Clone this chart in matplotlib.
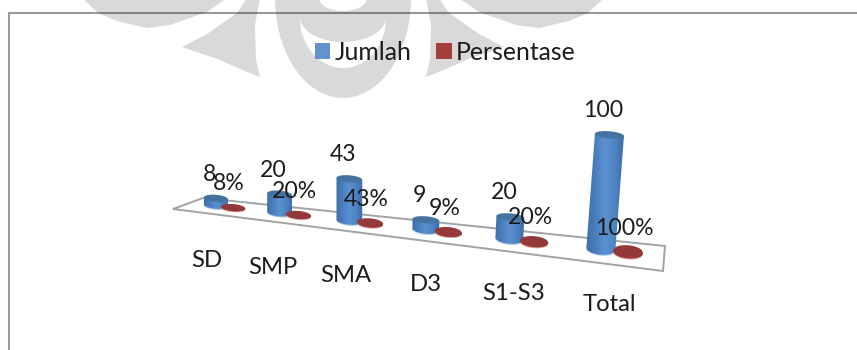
import numpy as np
import matplotlib
matplotlib.use("Agg")
import matplotlib.pyplot as plt
from matplotlib.patches import Polygon, Patch
from matplotlib.colors import LinearSegmentedColormap

plt.rcParams['font.family'] = ['Lato', 'DejaVu Sans']

# Education level data
categories = ["SD", "SMP", "SMA", "D3", "S1-S3", "Total"]
jumlah = [8, 20, 43, 9, 20, 100]
persentase = [0.08, 0.20, 0.43, 0.09, 0.20, 1.00]
persentase_labels = ["8%", "20%", "43%", "9%", "20%", "100%"]
series_names = ["Jumlah", "Persentase"]

WIDTH, HEIGHT = 857, 350
FONT_VALUE = 16.6
FONT_CATEGORY = 17.2
FONT_LEGEND = 17.8
INK = "#1c1c1c"
WATERMARK = "#d9d9d9"

fig = plt.figure(figsize=(WIDTH / 100, HEIGHT / 100), dpi=100)
ax = fig.add_axes([0, 0, 1, 1])
ax.set_xlim(0, WIDTH)
ax.set_ylim(HEIGHT, 0)
ax.axis("off")


def mirrored(points, axis=343):
    return [(2 * axis - x, y) for x, y in points]


# Pale logo printed behind the chart
blob = [(82, -2), (98, 13), (117, 21), (147, 28), (170, 25), (207, 12), (227, -2)]
wedge = [(182, 47), (207, 34), (237, 13), (247, -2), (260, -2), (255, 25),
         (256, 60), (260, 77), (247, 72), (220, 60)]
for shape in (blob, wedge, mirrored(blob), mirrored(wedge)):
    ax.add_patch(Polygon(shape, closed=True, fc=WATERMARK, ec="none", zorder=0))

bowl = np.linspace(np.pi, 0, 40)
outer = [(343 + 68 * np.cos(t), -2 + 100 * np.sin(t)) for t in bowl]
ax.add_patch(Polygon(outer, closed=True, fc=WATERMARK, ec="none", zorder=0))
gap = [(343 + 43 * np.cos(t), 18 + 50 * np.sin(t)) for t in bowl]
ax.add_patch(Polygon(gap, closed=True, fc="white", ec="none", zorder=0))
inner = [(343 + 43 * np.cos(t), 17 + 25 * np.sin(t)) for t in bowl]
ax.add_patch(Polygon(inner, closed=True, fc=WATERMARK, ec="none", zorder=0))
notch = [(343 + 24 * np.cos(t), -2 + 13 * np.sin(t)) for t in bowl]
ax.add_patch(Polygon(notch, closed=True, fc="white", ec="none", zorder=0))

# Chart area border: only the top and left edges fall inside the canvas
ax.plot([9.5, 9.5, WIDTH], [HEIGHT, 12.5, 12.5], color="black", alpha=0.4,
        lw=1.5, solid_joinstyle="miter", zorder=1)

# Perspective floor
floor = [(173, 209), (663, 271), (665, 246), (203, 198)]
ax.add_patch(Polygon(floor, closed=True, fc="none", ec="#a3a3a3", lw=1.4, zorder=2))

# Category slots widen by a constant ratio towards the viewer
SLOT_START, SLOT_STEP, SLOT_RATIO = 224.5, 64.5, 1.095


def project(u, v):
    x = SLOT_START + SLOT_STEP * (SLOT_RATIO ** u - 1) / (SLOT_RATIO - 1)
    front = 209 + (x - 173) * (271 - 209) / (663 - 173)
    back = 198 + (x - 203) * (246 - 198) / (665 - 203)
    return x, front + (back - front) * v


blue_map = LinearSegmentedColormap.from_list(
    "blue_body", ["#3d6ea8", "#4a7dbb", "#5b90d2", "#4f84c4", "#3a6ba3"])
red_map = LinearSegmentedColormap.from_list(
    "red_body", ["#8e3331", "#a53f3c", "#8e3331"])


def ellipse(cx, cy, rx, ry, tilt=0.08):
    t = np.linspace(0, 2 * np.pi, 80)
    dx = rx * np.cos(t)
    return np.column_stack([cx + dx, cy + ry * np.sin(t) + tilt * dx])


def cylinder(base_x, base_y, value, cmap, cap, rim, zorder, cap_ry=None):
    # Size and lean of a cylinder grow towards the near end of the floor
    depth = (base_x - 216) / 385
    rx = (24 + 5 * depth) / 2
    ry = 3.4 + 2.4 * depth
    rise = value * (0.875 + 0.265 * depth)
    lean = rise * 0.075 * max(depth - 0.35, 0) / 0.65
    top_x, top_y = base_x + lean, base_y - rise

    base = ellipse(base_x, base_y, rx, ry)
    ax.add_patch(Polygon(base + [0, 1.0], closed=True, fc=rim, ec="none", zorder=zorder))

    t = np.linspace(0, np.pi, 40)
    lower = np.column_stack([base_x + rx * np.cos(t), base_y + ry * np.sin(t) + 0.08 * rx * np.cos(t)])
    upper = np.array([[top_x - rx, top_y - 0.08 * rx], [top_x + rx, top_y + 0.08 * rx]])
    body = Polygon(np.vstack([lower, upper]), closed=True, fc="none", ec="none", zorder=zorder)
    ax.add_patch(body)
    shade = ax.imshow(np.linspace(0, 1, 64).reshape(1, -1), cmap=cmap, aspect="auto",
                      extent=(base_x - rx - 1, top_x + rx + 1, base_y + ry + 2, top_y - 2),
                      zorder=zorder)
    shade.set_clip_path(body)
    ax.add_patch(Polygon(ellipse(top_x, top_y, rx, cap_ry or ry), closed=True, fc=cap, ec="none",
                         zorder=zorder + 0.1))
    return top_x, top_y


BLUE_U, RED_U = -0.14, 0.14
for i, name in enumerate(categories):
    bx, by = project(i + BLUE_U, 0.6)
    rx, ry = project(i + RED_U, 0.58)
    tx, ty = cylinder(bx, by, jumlah[i], blue_map, "#44739f", "#a9c8ea", 3, cap_ry=3.6)
    cylinder(rx, ry, persentase[i], red_map, "#93393a", "#dc9a98", 3)
    ax.text(tx - 6, ty - 24, str(jumlah[i]), fontsize=FONT_VALUE, color=INK,
            ha="center", va="center", zorder=6)
    ax.text(rx - 4, ry - 24, persentase_labels[i], fontsize=FONT_VALUE, color=INK,
            ha="center", va="center", zorder=6)
    mid_x, mid_y = project(i, 0.58)
    ax.text(mid_x - 18 + 0.033 * (mid_x - 224), mid_y + 53.5, name, fontsize=FONT_CATEGORY,
            color=INK, ha="center", va="center", zorder=6)

ax.set_xlim(0, WIDTH)
ax.set_ylim(HEIGHT, 0)

# Legend along the top of the chart
handles = [Patch(fc="#6492cb", ec="none", label=series_names[0]),
           Patch(fc="#a53f3c", ec="none", label=series_names[1])]
ax.legend(handles=handles, ncol=2, frameon=False, fontsize=FONT_LEGEND,
          handlelength=0.61, handleheight=0.61, handletextpad=0.18, columnspacing=1.0,
          borderpad=0, labelcolor=INK, loc="center", bbox_to_anchor=(445.5 / WIDTH, 1 - 52 / HEIGHT),
          bbox_transform=ax.transAxes)

fig.savefig("out.png", dpi=100, facecolor="white")
